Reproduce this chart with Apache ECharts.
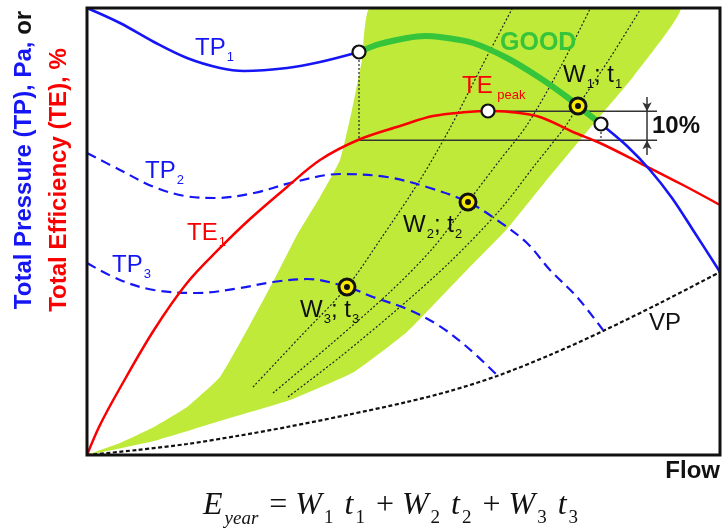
<!DOCTYPE html>
<html>
<head>
<meta charset="utf-8">
<script src="https://cdn.jsdelivr.net/npm/echarts@6/dist/echarts.min.js"></script>
<style>
  html, body { margin: 0; padding: 0; background: #fff; }
  #chart { width: 725px; height: 531px; }
</style>
</head>
<body>
<div id="chart"></div>
<script>
  // flow (x) and pressure / efficiency (y), both on a 0-100 schematic scale
  const tp1Left = [[0, 100], [5.21, 96.64], [10.58, 92.39], [15.8, 88.81], [21.01, 86.58], [24.8, 85.91], [31.6, 86.58], [36.81, 87.92], [42.97, 90.16]]
  const goodSeg = [[42.97, 90.16], [46.29, 91.95], [50.55, 93.29], [53.4, 93.74], [55.77, 93.51], [60.98, 92.17], [66.35, 88.81], [71.56, 84.34], [75.83, 80.09], [77.57, 78.08], [81.2, 74.05]]
  const tp1Right = [[81.2, 74.05], [85.31, 69.13], [88.94, 63.76], [92.42, 57.49], [95.73, 50.34], [100, 40.94]]
  const tp2 = [[0, 67.56], [5.21, 63.76], [10.58, 59.96], [15.48, 57.94], [20.06, 57.49], [26.38, 58.61], [32.7, 61.07], [39.97, 62.86], [47.39, 62.19], [54.19, 59.73], [60.19, 56.6], [64.77, 52.57], [69.51, 47.43], [73.14, 41.39], [77.41, 35.35], [81.52, 27.96]]
  const tp3 = [[0, 42.95], [5.21, 39.15], [10.58, 36.91], [17.38, 36.24], [24.17, 37.36], [29.38, 38.7], [34.76, 39.37], [41.07, 37.58], [45.18, 35.35], [50.55, 32.66], [55.45, 29.08], [60.03, 24.16], [64.77, 17.9]]
  const te1 = [[0, 0], [2.05, 6.71], [5.21, 14.99], [10.58, 27.96], [15.8, 38.48], [21.01, 46.31], [25.75, 52.8], [31.6, 59.96], [36.81, 65.99], [42.81, 70.47], [49.45, 73.6], [54.66, 75.84], [60.03, 76.73], [63.35, 76.96], [66.82, 76.73], [71.56, 75.62], [76.78, 72.26], [81.04, 69.8], [87.36, 65.32], [94.15, 60.4], [100, 55.93]]
  const vp = [[0, 0], [7.9, 1.12], [15.8, 2.46], [23.7, 4.25], [31.6, 6.26], [41.07, 8.95], [50.55, 11.86], [57.35, 14.32], [64.77, 17.67], [73.14, 22.37], [81.52, 27.74], [90.52, 34.0], [100, 40.94]]
  // system curves through the operating points
  const sys1 = [[26.22, 15.21], [33.65, 26.4], [41.07, 37.58], [46.29, 48.1], [52.61, 61.52], [57.35, 73.15], [62.24, 86.58], [67.14, 99.78]]
  const sys2 = [[29.38, 13.87], [38.39, 24.61], [47.87, 36.47], [54.66, 46.31], [60.19, 56.6], [65.24, 66.0], [69.51, 73.83], [74.72, 86.58], [79.46, 99.78]]
  const sys3 = [[31.75, 12.98], [39.97, 21.92], [49.45, 33.11], [57.35, 43.18], [65.24, 54.81], [70.77, 64.88], [75.51, 73.38], [77.57, 78.08], [82.62, 88.81], [87.36, 99.55]]
  // good operating zone outline
  const band = [[0, 0], [5.21, 2.68], [10.58, 6.26], [15.8, 10.74], [21.01, 17.45], [25.28, 27.96], [29.54, 39.15], [33.18, 49.22], [36.81, 57.72], [39.97, 66.0], [41.86, 77.18], [43.44, 88.37], [44.71, 100],
    [93.68, 100], [86.26, 84.56], [79.46, 73.15], [72.35, 61.07], [66.35, 50.56], [60.03, 41.39], [55.77, 35.12], [50.55, 27.52], [42.18, 18.57], [32.07, 12.3], [21.01, 7.61], [10.58, 3.13]]
  const openPts = [[42.97, 90.16], [63.35, 76.96], [81.2, 74.05]]
  const workPts = [[77.57, 78.08], [60.19, 56.6], [41.07, 37.58]]
  const teLevels = [76.9, 70.4] // peak and -10 %
  const levelTop = [[63.35, 76.9], [90.05, 76.9]]
  const levelLow = [[42.97, 70.4], [90.05, 70.4]]
  const dropLeft = [[42.97, 90.16], [42.97, 70.4]]
  const dropRight = [[81.2, 74.05], [81.2, 70.4]]
  const dimX = 88.47
  const dimEnds = [80.1, 67.1]

  const BLUE = '#1616f5'
  const RED = '#fa0000'
  const GREEN = '#36c43a'
  const FONT = 'Liberation Sans'

  const chart = echarts.init(document.getElementById('chart'))

  function curve(data, color, width, type, z, smooth) {
    return {
      type: 'line', data: data, symbol: 'none', smooth: smooth, z: z, silent: true,
      lineStyle: { color: color, width: width, type: type }
    }
  }

  // rich text with subscripts
  function subRich(color, size) {
    return {
      m: { fontSize: size, fontFamily: FONT, fill: color, padding: [0, 0, 4, 0], verticalAlign: 'bottom' },
      s: { fontSize: 13, fontFamily: FONT, fill: color, padding: [0, 0, 0, 1], verticalAlign: 'bottom' }
    }
  }
  function label(x, y, text, color) {
    return { type: 'text', x: x, y: y, z: 100, style: { text: text, rich: subRich(color, 24), verticalAlign: 'top' } }
  }

  const option = {
    animation: false,
    grid: { left: 87, right: 5, top: 8, bottom: 76 },
    xAxis: { type: 'value', min: 0, max: 100, axisLine: { show: false }, axisTick: { show: false }, axisLabel: { show: false }, splitLine: { show: false } },
    yAxis: { type: 'value', min: 0, max: 100, axisLine: { show: false }, axisTick: { show: false }, axisLabel: { show: false }, splitLine: { show: false } },
    series: [
      {
        type: 'custom', z: 1, silent: true, clip: true, data: [[0, 0]],
        renderItem: function(params, api) {
          return { type: 'polygon', shape: { points: band.map(p => api.coord(p)), smooth: 0.12 }, style: { fill: '#bfea3a' } }
        }
      },
      curve(sys1, '#222', 1.2, [2, 2], 2, 0.3),
      curve(sys2, '#222', 1.2, [2, 2], 2, 0.3),
      curve(sys3, '#222', 1.2, [2, 2], 2, 0.3),
      curve(dropLeft, '#222', 1.2, [2, 2], 3, false),
      curve(dropRight, '#222', 1.2, [2, 2], 3, false),
      curve(levelTop, '#333', 1.5, 'solid', 3, false),
      curve(levelLow, '#333', 1.5, 'solid', 3, false),
      {
        type: 'line', data: [[dimX, teLevels[0]], [dimX, teLevels[1]]], symbol: 'none', z: 3, silent: true,
        lineStyle: { color: '#333', width: 1.5 },
        markLine: {
          silent: true, symbol: ['none', 'arrow'], symbolSize: [7, 9], label: { show: false },
          lineStyle: { color: '#333', width: 1.5, type: 'solid' },
          data: [
            [{ coord: [dimX, dimEnds[0]] }, { coord: [dimX, teLevels[0]] }],
            [{ coord: [dimX, dimEnds[1]] }, { coord: [dimX, teLevels[1]] }]
          ]
        }
      },
      curve(vp, '#111', 2.2, [4, 2.5], 4, 0.3),
      curve(tp2, BLUE, 2.2, [10, 6], 5, 0.35),
      curve(tp3, BLUE, 2.2, [10, 6], 5, 0.35),
      curve(te1, RED, 2.5, 'solid', 6, 0.35),
      curve(tp1Left, BLUE, 2.6, 'solid', 6, 0.35),
      curve(tp1Right, BLUE, 2.6, 'solid', 6, 0.3),
      curve(goodSeg, GREEN, 6, 'solid', 7, 0.35),
      {
        type: 'scatter', data: openPts, symbolSize: 13, z: 10, silent: true,
        itemStyle: { color: '#fff', borderColor: '#111', borderWidth: 2.2, opacity: 1 }
      },
      {
        type: 'scatter', data: workPts, symbolSize: 16, z: 10, silent: true,
        itemStyle: { color: '#f7ea00', borderColor: '#111', borderWidth: 3, opacity: 1 }
      },
      {
        type: 'scatter', data: workPts, symbolSize: 6, z: 11, silent: true,
        itemStyle: { color: '#111', opacity: 1 }
      }
    ],
    graphic: [
      { type: 'rect', z: 50, silent: true, shape: { x: 87, y: 8, width: 633, height: 447 }, style: { fill: 'none', stroke: '#111', lineWidth: 3 } },
      label(195, 36, '{m|TP}{s|1}', BLUE),
      label(145, 159, '{m|TP}{s|2}', BLUE),
      label(112, 253, '{m|TP}{s|3}', BLUE),
      label(187, 221, '{m|TE}{s|1}', RED),
      label(462, 74, '{m|TE}{s| peak}', RED),
      label(563, 63, '{m|W}{s|1}{m|; t}{s|1}', '#111'),
      label(403, 213, '{m|W}{s|2}{m|; t}{s|2}', '#111'),
      label(300, 298, '{m|W}{s|3}{m|; t}{s|3}', '#111'),
      { type: 'text', x: 500, y: 31, z: 100, style: { text: 'GOOD', fill: GREEN, font: 'bold 25px "Liberation Sans"', verticalAlign: 'top' } },
      { type: 'text', x: 649, y: 311, z: 100, style: { text: 'VP', fill: '#111', font: '24px "Liberation Sans"', verticalAlign: 'top' } },
      { type: 'text', x: 652, y: 114, z: 100, style: { text: '10%', fill: '#111', font: 'bold 24px "Liberation Sans"', verticalAlign: 'top' } },
      { type: 'text', x: 720, y: 459, z: 100, style: { text: 'Flow', fill: '#111', font: 'bold 24px "Liberation Sans"', align: 'right', verticalAlign: 'top' } },
      {
        type: 'text', x: 24, y: 160, rotation: Math.PI / 2, z: 100,
        style: {
          text: '{b|Total Pressure (TP), Pa, }{k|or}', align: 'center', verticalAlign: 'middle',
          rich: {
            b: { fontSize: 24, fontWeight: 'bold', fontFamily: FONT, fill: BLUE },
            k: { fontSize: 24, fontWeight: 'bold', fontFamily: FONT, fill: '#111' }
          }
        }
      },
      {
        type: 'text', x: 59, y: 180, rotation: Math.PI / 2, z: 100,
        style: { text: 'Total Efficiency (TE), %', fill: RED, font: 'bold 24px "Liberation Sans"', align: 'center', verticalAlign: 'middle' }
      },
      {
        type: 'text', x: 203, y: 490, z: 100,
        style: {
          text: '{i|E}{si|year}{r| = }{i|W}{sr|1}{i| t}{sr|1}{r| + }{i|W}{sr|2}{i| t}{sr|2}{r| + }{i|W}{sr|3}{i| t}{sr|3}',
          verticalAlign: 'top',
          rich: {
            i: { fontSize: 32, fontStyle: 'italic', fontFamily: 'Liberation Serif', fill: '#111', padding: [0, 0, 6, 0], verticalAlign: 'bottom' },
            r: { fontSize: 32, fontFamily: 'Liberation Serif', fill: '#111', padding: [0, 0, 6, 0], verticalAlign: 'bottom' },
            si: { fontSize: 19, fontStyle: 'italic', fontFamily: 'Liberation Serif', fill: '#111', padding: [0, 3, 0, 2], verticalAlign: 'bottom' },
            sr: { fontSize: 19, fontFamily: 'Liberation Serif', fill: '#111', padding: [0, 3, 0, 2], verticalAlign: 'bottom' }
          }
        }
      }
    ]
  }
  chart.setOption(option)
</script>
</body>
</html>
